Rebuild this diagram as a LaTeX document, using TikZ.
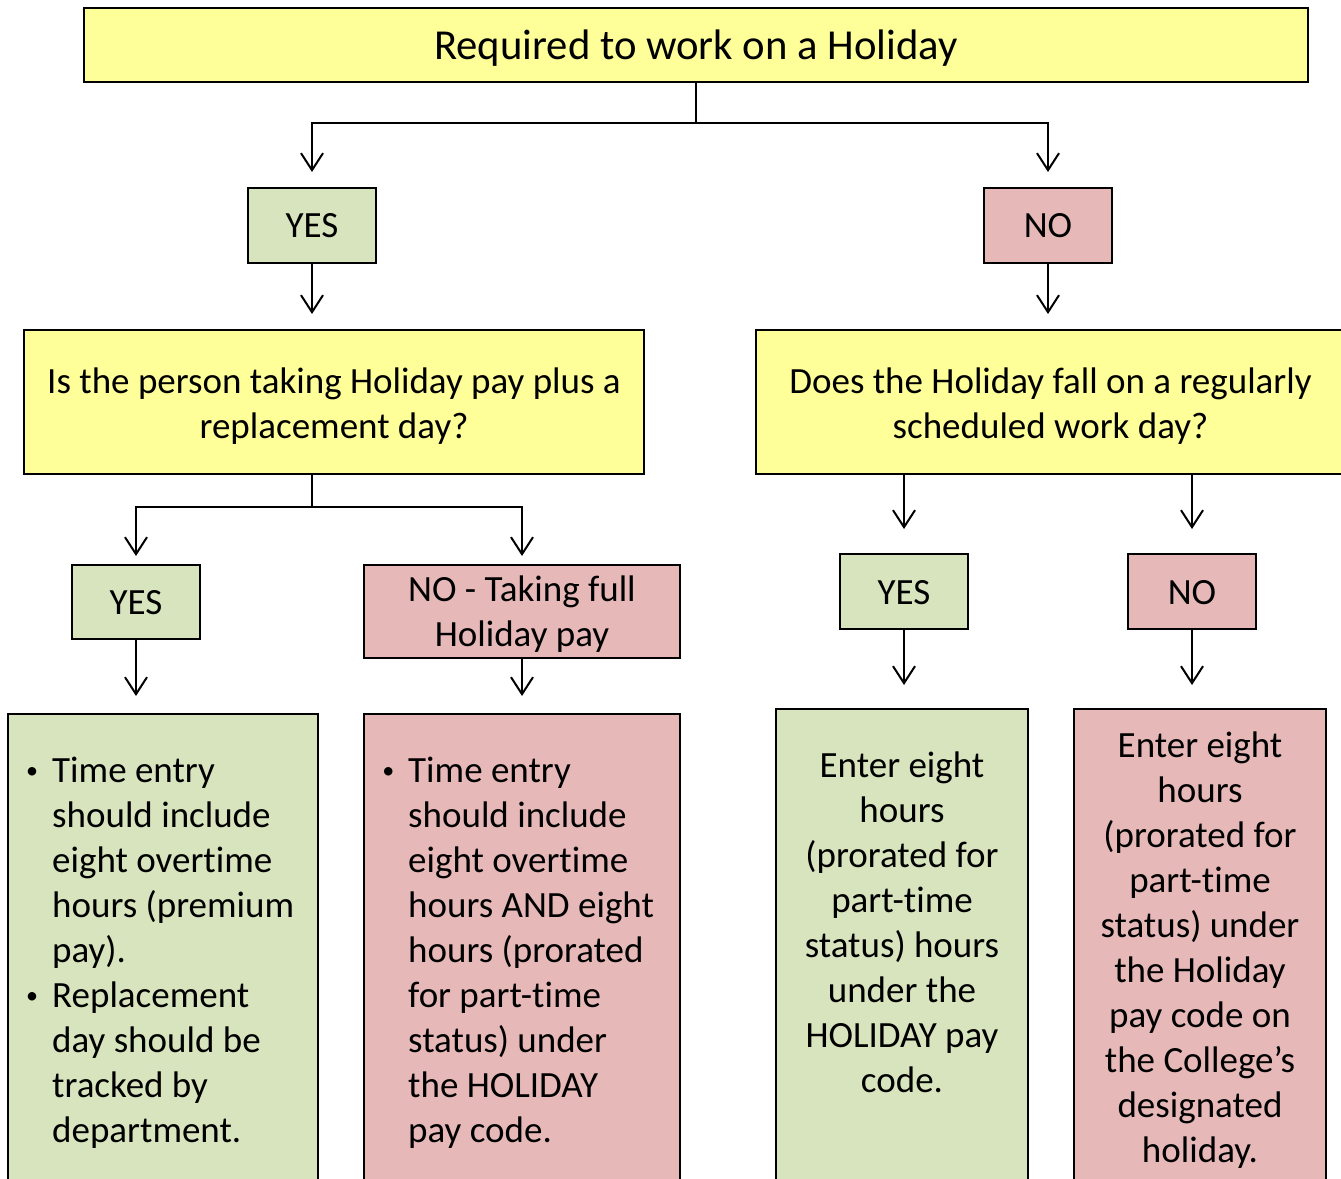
\documentclass[tikz,border=0pt]{standalone}
\usepackage{fontspec}
\setmainfont{Carlito}[Ligatures=NoCommon]
\usetikzlibrary{arrows.meta}
\definecolor{cyel}{HTML}{FFFF99}
\definecolor{cgrn}{HTML}{D7E4BD}
\definecolor{cpnk}{HTML}{E6B9B8}
\tikzset{
  box/.style={draw=black, line width=2pt, inner sep=0pt},
  ybox/.style={box, fill=cyel},
  gbox/.style={box, fill=cgrn},
  pbox/.style={box, fill=cpnk},
  txt/.style={inner sep=0pt, align=center, font=\fontsize{37}{45}\selectfont},
  arr/.style={line width=2pt, -{Straight Barb[length=17pt,width=22pt]}},
}
\newcommand{\bul}{\llap{\raisebox{4pt}{\fontsize{24}{24}\selectfont\textbullet}\hspace{14pt}}}
\begin{document}
\begin{tikzpicture}[x=1pt,y=-1pt]
\useasboundingbox (0,0) rectangle (1341,1178);
\clip (0,0) rectangle (1341,1178);
% boxes
\node[ybox, minimum width=1224pt, minimum height=74pt] (top) at (696,45) {};
\node[gbox, minimum width=128pt, minimum height=75pt] (yes1) at (312,225.5) {};
\node[pbox, minimum width=128pt, minimum height=75pt] (no1) at (1048,225.5) {};
\node[ybox, minimum width=620pt, minimum height=144pt] (q1) at (334,402) {};
\node[ybox, minimum width=589pt, minimum height=144pt] (q2) at (1050.5,402) {};
\node[gbox, minimum width=128pt, minimum height=74pt] (yes2) at (136,602) {};
\node[pbox, minimum width=316pt, minimum height=93pt] (no2) at (522,611.5) {};
\node[gbox, minimum width=128pt, minimum height=75pt] (yes3) at (904,591.5) {};
\node[pbox, minimum width=128pt, minimum height=75pt] (no3) at (1192,591.5) {};
\node[gbox, minimum width=310pt, minimum height=486pt] (b1) at (163,957) {};
\node[pbox, minimum width=316pt, minimum height=486pt] (b2) at (522,957) {};
\node[gbox, minimum width=252pt, minimum height=491pt] (b3) at (902,954.5) {};
\node[pbox, minimum width=252pt, minimum height=491pt] (b4) at (1200,954.5) {};
% texts
\node[txt, font=\fontsize{42.7}{52}\selectfont] (ttop) at (696,48) {Required to work on a Holiday};
\node[txt] (tyes1) at (312,226) {YES};
\node[txt] (tno1) at (1048,226) {NO};
\node[txt] (tq1) at (334,406) {Is the person taking Holiday pay plus a\\replacement day?};
\node[txt] (tq2) at (1050.5,406) {Does the Holiday fall on a regularly\\scheduled work day?};
\node[txt] (tyes2) at (136,603) {YES};
\node[txt] (tno2) at (522,614.5) {NO - Taking full\\Holiday pay};
\node[txt] (tyes3) at (904,592.5) {YES};
\node[txt] (tno3) at (1192,592.5) {NO};
\node[txt, anchor=west, align=left] (t1) at (52,953) {\bul Time entry\\should include\\eight overtime\\hours (premium\\pay).\\\bul Replacement\\day should be\\tracked by\\department.};
\node[txt, anchor=west, align=left] (t2) at (408,953) {\bul Time entry\\should include\\eight overtime\\hours AND eight\\hours (prorated\\for part-time\\status) under\\the HOLIDAY\\pay code.};
\node[txt] (t3) at (902,922) {Enter eight\\hours\\(prorated for\\part-time\\status) hours\\under the\\HOLIDAY pay\\code.};
\node[txt] (t4) at (1200,950) {Enter eight\\hours\\(prorated for\\part-time\\status) under\\the Holiday\\pay code on\\the College’s\\designated\\holiday.};
% connectors
\draw[arr, shorten >=15pt] (top.south) -- ++(0,40) -| (yes1.north);
\draw[arr, shorten >=15pt] (top.south) -- ++(0,40) -| (no1.north);
\draw[arr, shorten >=15pt] (yes1.south) -- (yes1.south |- q1.north);
\draw[arr, shorten >=15pt] (no1.south) -- (no1.south |- q2.north);
\draw[arr, shorten >=8pt] (yes1.south |- q1.south) -- ++(0,32) -| (yes2.north);
\draw[arr, shorten >=8pt] (yes1.south |- q1.south) -- ++(0,32) -| (no2.north);
\draw[arr, shorten >=24pt] (yes3.north |- q2.south) -- (yes3.north);
\draw[arr, shorten >=24pt] (no3.north |- q2.south) -- (no3.north);
\draw[arr, shorten >=17pt] (yes2.south) -- (yes2.south |- b1.north);
\draw[arr, shorten >=17pt] (no2.south) -- (no2.south |- b2.north);
\draw[arr, shorten >=23pt] (yes3.south) -- (yes3.south |- b3.north);
\draw[arr, shorten >=23pt] (no3.south) -- (no3.south |- b4.north);
\end{tikzpicture}
\end{document}
